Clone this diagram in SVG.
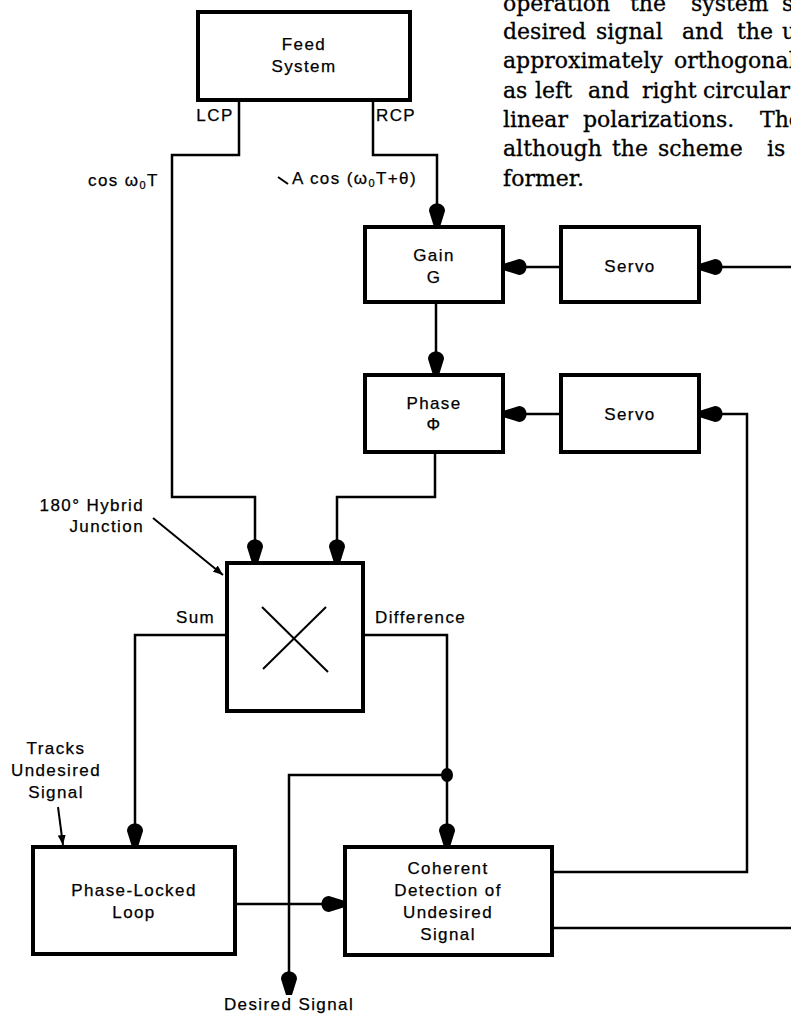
<svg xmlns="http://www.w3.org/2000/svg" width="791" height="1018" viewBox="0 0 791 1018">
<style>
.box{fill:#fff;stroke:#000;stroke-width:4}
.ln{fill:none;stroke:#000;stroke-width:2.5;stroke-linejoin:miter}
.thin{fill:none;stroke:#000;stroke-width:2}
.lbl{font-family:"Liberation Sans",Arial,Helvetica,sans-serif;font-size:17px;letter-spacing:1.4px;fill:#000;stroke:#000;stroke-width:0.25}
.c{text-anchor:middle}
.r{text-anchor:end}
.ser{font-family:"DejaVu Serif","Liberation Serif",serif;font-size:22px;fill:#000;stroke:#000;stroke-width:0.3}
</style>
<defs>
<marker id="arr" viewBox="0 0 24 16" refX="24" refY="8" markerWidth="24" markerHeight="16" markerUnits="userSpaceOnUse" orient="auto">
<path d="M24,5 L24,11 L8,16 C-2,16 -2,0 8,0 Z" fill="#000"/>
</marker>
<marker id="sarr" viewBox="0 0 10 8" refX="10" refY="4" markerWidth="10" markerHeight="8" markerUnits="userSpaceOnUse" orient="auto">
<path d="M0,0 L10,4 L0,8 Z" fill="#000"/>
</marker>
</defs>
<rect width="791" height="1018" fill="#fff"/>

<g id="text-block" class="ser">
<text y="11"><tspan x="503">operation</tspan><tspan x="630">the</tspan><tspan x="691">system</tspan><tspan x="782">s</tspan></text>
<text y="39"><tspan x="503">desired</tspan><tspan x="596">signal</tspan><tspan x="682">and</tspan><tspan x="737">the</tspan><tspan x="782">u</tspan></text>
<text y="68"><tspan x="503">approximately</tspan><tspan x="674">orthogonal</tspan></text>
<text y="98"><tspan x="503">as</tspan><tspan x="535">left</tspan><tspan x="588">and</tspan><tspan x="642">right</tspan><tspan x="703">circular</tspan></text>
<text y="127"><tspan x="503">linear</tspan><tspan x="583">polarizations.</tspan><tspan x="760">The</tspan></text>
<text y="156"><tspan x="503">although</tspan><tspan x="612">the</tspan><tspan x="658">scheme</tspan><tspan x="767">is</tspan></text>
<text y="186"><tspan x="503">former.</tspan></text>
</g>

<g id="connectors">
<path class="ln" d="M239,100 V155 H172 V497 H255 V563" marker-end="url(#arr)"/>
<path class="ln" d="M373,100 V155 H437 V227" marker-end="url(#arr)"/>
<path class="ln" d="M436,302 V375" marker-end="url(#arr)"/>
<path class="ln" d="M561,267 H503" marker-end="url(#arr)"/>
<path class="ln" d="M791,267 H699" marker-end="url(#arr)"/>
<path class="ln" d="M561,414 H503" marker-end="url(#arr)"/>
<path class="ln" d="M552,872 H747 V414 H699" marker-end="url(#arr)"/>
<path class="ln" d="M435,452 V497 H337 V563" marker-end="url(#arr)"/>
<path class="ln" d="M227,635 H135 V847" marker-end="url(#arr)"/>
<path class="ln" d="M363,635 H447 V847" marker-end="url(#arr)"/>
<path class="ln" d="M447,775 H289 V995" marker-end="url(#arr)"/>
<path class="ln" d="M235,904 H345" marker-end="url(#arr)"/>
<path class="ln" d="M552,928 H791"/>
<ellipse cx="447" cy="775" rx="6" ry="7" fill="#000"/>
<line class="thin" x1="153" y1="518" x2="223" y2="575" marker-end="url(#sarr)"/>
<line class="thin" x1="58" y1="807" x2="63" y2="845" marker-end="url(#sarr)"/>
<line class="thin" x1="278" y1="177" x2="288" y2="184"/>
</g>

<g id="feed-system">
<rect class="box" x="198" y="12" width="212" height="88"/>
<text class="lbl c" x="304" y="50">Feed</text>
<text class="lbl c" x="304" y="72">System</text>
</g>

<g id="port-labels">
<text class="lbl c" x="215" y="121">LCP</text>
<text class="lbl c" x="396" y="121">RCP</text>
<text class="lbl" x="88" y="186">cos ω<tspan font-size="11" dy="3">0</tspan><tspan dy="-3">T</tspan></text>
<text class="lbl" x="292" y="184" letter-spacing="2.5">A cos (ω<tspan font-size="11" dy="3">0</tspan><tspan dy="-3">T+θ)</tspan></text>
</g>

<g id="gain">
<rect class="box" x="365" y="227" width="138" height="75"/>
<text class="lbl c" x="434" y="261">Gain</text>
<text class="lbl c" x="434" y="283">G</text>
</g>

<g id="servo1">
<rect class="box" x="561" y="227" width="138" height="75"/>
<text class="lbl c" x="630" y="272">Servo</text>
</g>

<g id="phase">
<rect class="box" x="365" y="375" width="138" height="77"/>
<text class="lbl c" x="434" y="409">Phase</text>
<text class="lbl c" x="434" y="430" font-size="15">Φ</text>
</g>

<g id="servo2">
<rect class="box" x="561" y="375" width="138" height="77"/>
<text class="lbl c" x="630" y="420">Servo</text>
</g>

<g id="hybrid">
<text class="lbl r" x="144" y="511">180° Hybrid</text>
<text class="lbl r" x="144" y="532">Junction</text>
<rect class="box" x="227" y="563" width="136" height="148"/>
<line class="thin" x1="262" y1="607" x2="328" y2="672"/>
<line class="thin" x1="326" y1="607" x2="263" y2="669"/>
<text class="lbl" x="176" y="623">Sum</text>
<text class="lbl" x="375" y="623">Difference</text>
</g>

<g id="pll">
<text class="lbl c" x="56" y="754">Tracks</text>
<text class="lbl c" x="56" y="776">Undesired</text>
<text class="lbl c" x="56" y="798">Signal</text>
<rect class="box" x="33" y="847" width="202" height="107"/>
<text class="lbl c" x="134" y="896">Phase-Locked</text>
<text class="lbl c" x="134" y="918">Loop</text>
</g>

<g id="coherent">
<rect class="box" x="345" y="847" width="207" height="108"/>
<text class="lbl c" x="448" y="874">Coherent</text>
<text class="lbl c" x="448" y="896">Detection of</text>
<text class="lbl c" x="448" y="918">Undesired</text>
<text class="lbl c" x="448" y="940">Signal</text>
</g>

<g id="output">
<text class="lbl c" x="289" y="1010">Desired Signal</text>
</g>
</svg>
